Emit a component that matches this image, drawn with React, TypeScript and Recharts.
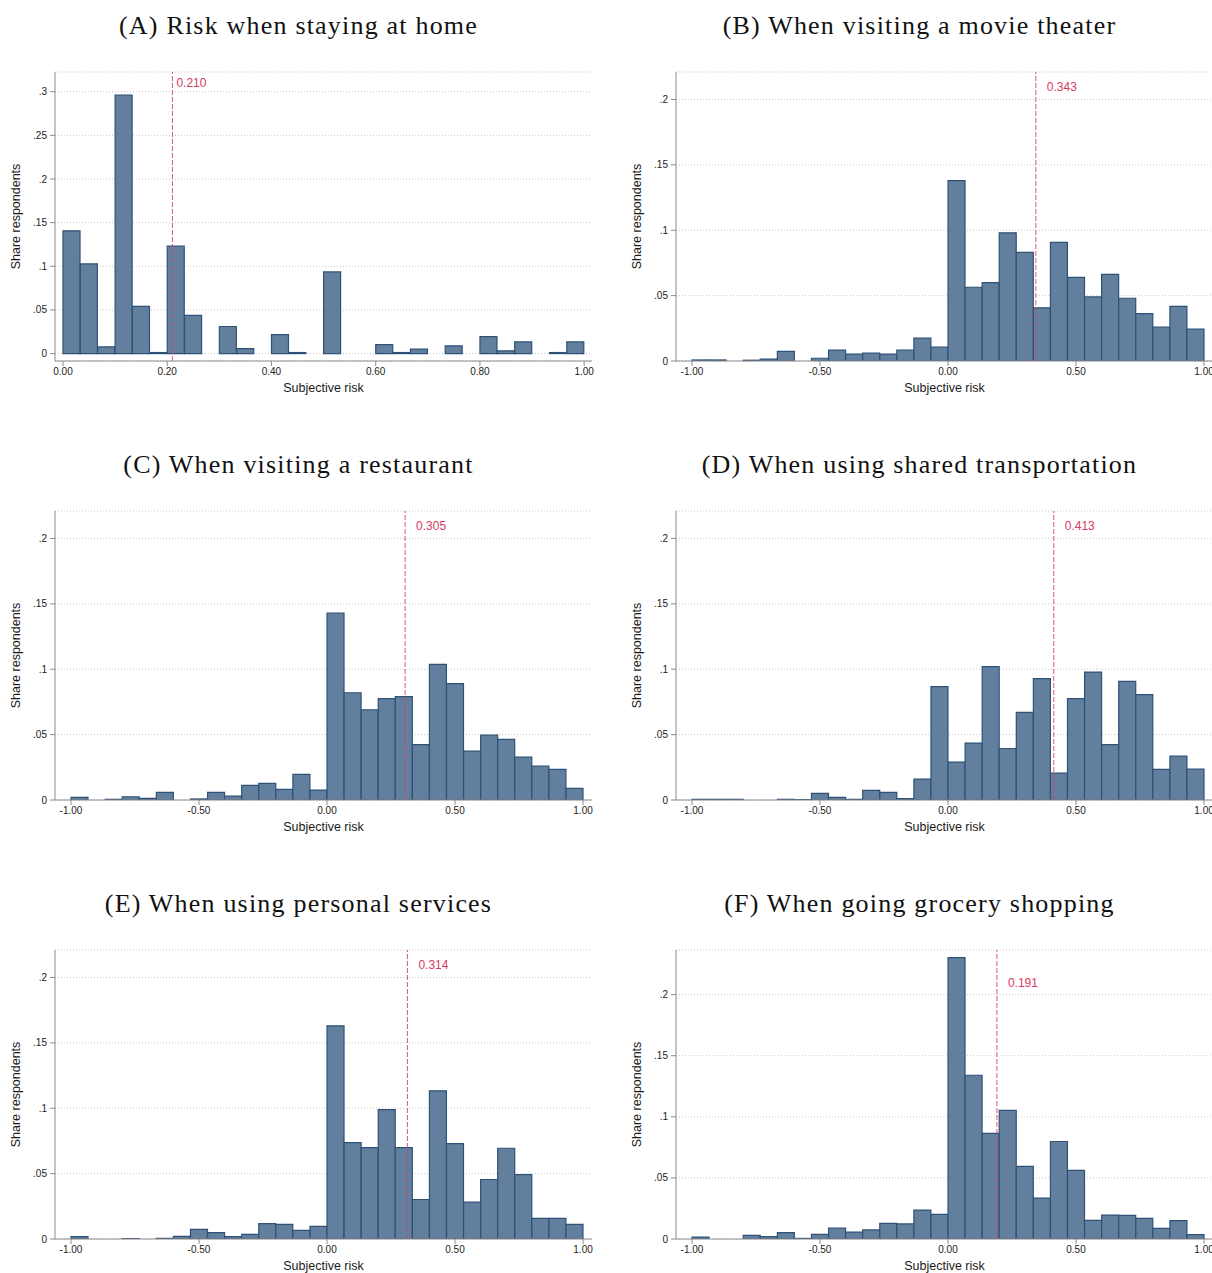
import React from 'react';
import { ComposedChart, Bar, XAxis, YAxis, CartesianGrid, ReferenceLine, ReferenceDot } from 'recharts';

// Bin centres (30 bins each)
const unitBins = [0.0167, 0.05, 0.0833, 0.1167, 0.15, 0.1833, 0.2167, 0.25, 0.2833, 0.3167, 0.35, 0.3833, 0.4167, 0.45, 0.4833, 0.5167, 0.55, 0.5833, 0.6167, 0.65, 0.6833, 0.7167, 0.75, 0.7833, 0.8167, 0.85, 0.8833, 0.9167, 0.95, 0.9833];
const wideBins = [-0.9667, -0.9, -0.8333, -0.7667, -0.7, -0.6333, -0.5667, -0.5, -0.4333, -0.3667, -0.3, -0.2333, -0.1667, -0.1, -0.0333, 0.0333, 0.1, 0.1667, 0.2333, 0.3, 0.3667, 0.4333, 0.5, 0.5667, 0.6333, 0.7, 0.7667, 0.8333, 0.9, 0.9667];

// Shares of respondents per bin
const homeShares = [0.1406, 0.1027, 0.0077, 0.296, 0.054, 0.0012, 0.123, 0.0437, 0, 0.031, 0.0057, 0, 0.0218, 0.0012, 0, 0.0935, 0, 0, 0.0103, 0.0012, 0.005, 0, 0.0088, 0, 0.0195, 0.003, 0.0134, 0, 0.0012, 0.0134];
const movieShares = [0.0008, 0.0008, 0, 0.0006, 0.0015, 0.0074, 0, 0.0021, 0.0083, 0.0053, 0.006, 0.0053, 0.0084, 0.0175, 0.0107, 0.138, 0.0564, 0.06, 0.098, 0.083, 0.0407, 0.0907, 0.064, 0.049, 0.0663, 0.048, 0.0363, 0.026, 0.0417, 0.0244];
const restaurantShares = [0.002, 0, 0.0005, 0.0025, 0.0013, 0.0058, 0, 0.0008, 0.0058, 0.003, 0.0112, 0.0127, 0.0081, 0.0196, 0.0076, 0.143, 0.082, 0.069, 0.0775, 0.079, 0.0424, 0.1037, 0.089, 0.0374, 0.0496, 0.0463, 0.0328, 0.026, 0.0234, 0.0089];
const transportShares = [0.0005, 0.0005, 0.0005, 0, 0, 0.0005, 0.0003, 0.005, 0.002, 0.0005, 0.0074, 0.0058, 0.001, 0.016, 0.0867, 0.029, 0.0435, 0.102, 0.0394, 0.067, 0.0928, 0.0206, 0.0775, 0.0978, 0.0424, 0.0907, 0.0806, 0.0234, 0.0335, 0.0236];
const servicesShares = [0.0018, 0, 0, 0.0003, 0, 0.0005, 0.002, 0.0074, 0.0048, 0.0018, 0.0036, 0.0117, 0.0112, 0.0066, 0.0097, 0.163, 0.0737, 0.0699, 0.0989, 0.0699, 0.0302, 0.1133, 0.0729, 0.0282, 0.0455, 0.0694, 0.0493, 0.0158, 0.0158, 0.0112];
const groceryShares = [0.0016, 0, 0, 0.003, 0.002, 0.0052, 0.0005, 0.0038, 0.009, 0.0057, 0.0074, 0.0128, 0.0123, 0.0237, 0.0202, 0.2302, 0.134, 0.0864, 0.1052, 0.0594, 0.0335, 0.0798, 0.0561, 0.0153, 0.0196, 0.0193, 0.0169, 0.0087, 0.015, 0.0035];

const titles = [
  '(A) Risk when staying at home',
  '(B) When visiting a movie theater',
  '(C) When visiting a restaurant',
  '(D) When using shared transportation',
  '(E) When using personal services',
  '(F) When going grocery shopping',
];
const means = [0.21, 0.343, 0.305, 0.413, 0.314, 0.191];
const meanLabels = ['0.210', '0.343', '0.305', '0.413', '0.314', '0.191'];
const meanLabelHeights = [0.31, 0.21, 0.21, 0.21, 0.21, 0.21];

const unitTicks = [0, 0.2, 0.4, 0.6, 0.8, 1];
const wideTicks = [-1, -0.5, 0, 0.5, 1];
const yTicksHome = [0, 0.05, 0.1, 0.15, 0.2, 0.25, 0.3];
const yTicksOther = [0, 0.05, 0.1, 0.15, 0.2];

const SANS = '"Liberation Sans", Arial, Helvetica, sans-serif';
const SERIF = '"Liberation Serif", "Times New Roman", serif';
const BAR_FILL = '#62809e';
const BAR_STROKE = '#2e5178';
const MEAN_COLOR = '#d63c62';
const AXIS_COLOR = '#8c8c8c';

const fmtY = (v: number) => (v === 0 ? '0' : String(v).replace(/^0/, ''));
const fmtX = (v: number) => v.toFixed(2);

const XLabel = (props: any) => {
  const vb = props.viewBox || {};
  return (
    <text x={vb.x + vb.width / 2} y={vb.y + 27} textAnchor="middle" dominantBaseline="central" fontFamily={SANS} fontSize={12.5} fill="#1a1a1a">
      Subjective risk
    </text>
  );
};

const YLabel = (props: any) => {
  const vb = props.viewBox || {};
  const cx = vb.x + 6;
  const cy = vb.y + vb.height / 2;
  return (
    <text x={cx} y={cy} textAnchor="middle" dominantBaseline="central" transform={`rotate(-90 ${cx} ${cy})`} fontFamily={SANS} fontSize={12.5} fill="#1a1a1a">
      Share respondents
    </text>
  );
};

type PanelProps = {
  left: number;
  top: number;
  title: string;
  bins: number[];
  shares: number[];
  mean: number;
  meanLabel: string;
  meanLabelY: number;
  labelOffset: number;
  xDomain: [number, number];
  xTicks: number[];
  yDomain: [number, number];
  yTicks: number[];
};

function Panel(p: PanelProps) {
  const data = p.bins.map((b, i) => ({ bin: b, share: p.shares[i] }));
  return (
    <div style={{ position: 'absolute', left: p.left, top: p.top, width: 600, height: 400 }}>
      <div
        style={{
          position: 'absolute',
          left: 0,
          top: 0,
          width: 597,
          textAlign: 'center',
          fontFamily: SERIF,
          fontSize: 26,
          letterSpacing: 1.2,
          lineHeight: '30px',
          color: '#111',
          whiteSpace: 'nowrap',
        }}
      >
        {p.title}
      </div>
      <div style={{ position: 'absolute', left: 0, top: 51 }}>
        <ComposedChart
          width={600}
          height={339}
          data={data}
          margin={{ top: 10, right: 8, bottom: 0, left: 10 }}
          barCategoryGap={0}
          barGap={0}
        >
          <CartesianGrid vertical={false} stroke="#c8c8c8" strokeDasharray="1 2" />
          <XAxis
            type="number"
            dataKey="bin"
            domain={p.xDomain}
            ticks={p.xTicks}
            tickFormatter={fmtX}
            allowDataOverflow
            height={40}
            tickSize={5}
            tickMargin={2}
            interval={0}
            stroke={AXIS_COLOR}
            tick={{ fontSize: 10, fill: '#222', fontFamily: SANS }}
            label={XLabel}
          />
          <YAxis
            type="number"
            domain={p.yDomain}
            ticks={p.yTicks}
            tickFormatter={fmtY}
            allowDataOverflow
            width={45}
            tickSize={5}
            tickMargin={3}
            interval={0}
            stroke={AXIS_COLOR}
            tick={{ fontSize: 10, fill: '#222', fontFamily: SANS }}
            label={YLabel}
          />
          <Bar dataKey="share" fill={BAR_FILL} stroke={BAR_STROKE} strokeWidth={1.2} isAnimationActive={false} />
          <ReferenceLine x={p.mean} stroke={MEAN_COLOR} strokeDasharray="5 2" strokeWidth={1} strokeOpacity={0.85} />
          <ReferenceDot
            x={p.mean}
            y={p.meanLabelY}
            r={0}
            fill="none"
            stroke="none"
            label={{ value: p.meanLabel, position: 'right', offset: p.labelOffset, fill: MEAN_COLOR, fontSize: 12, fontFamily: SANS }}
          />
        </ComposedChart>
      </div>
    </div>
  );
}

const WIDE_X: [number, number] = [-1.0625, 1.035];
const UNIT_X: [number, number] = [-0.0153, 1.015];

export default function App() {
  const allShares = [homeShares, movieShares, restaurantShares, transportShares, servicesShares, groceryShares];
  const yDomains: [number, number][] = [
    [-0.0085, 0.3226],
    [0, 0.221],
    [0, 0.221],
    [0, 0.221],
    [0, 0.221],
    [0, 0.2365],
  ];
  const colLeft = [0, 621];
  const rowTop = [11, 450, 889];
  return (
    <div style={{ position: 'absolute', left: 0, top: 0, width: 1212, height: 1273, overflow: 'hidden', background: '#fff' }}>
      {titles.map((t, i) => (
        <Panel
          key={t}
          left={colLeft[i % 2]}
          top={rowTop[Math.floor(i / 2)]}
          title={t}
          bins={i === 0 ? unitBins : wideBins}
          shares={allShares[i]}
          mean={means[i]}
          meanLabel={meanLabels[i]}
          meanLabelY={meanLabelHeights[i]}
          labelOffset={i === 0 ? 4 : 11}
          xDomain={i === 0 ? UNIT_X : WIDE_X}
          xTicks={i === 0 ? unitTicks : wideTicks}
          yDomain={yDomains[i]}
          yTicks={i === 0 ? yTicksHome : yTicksOther}
        />
      ))}
    </div>
  );
}
